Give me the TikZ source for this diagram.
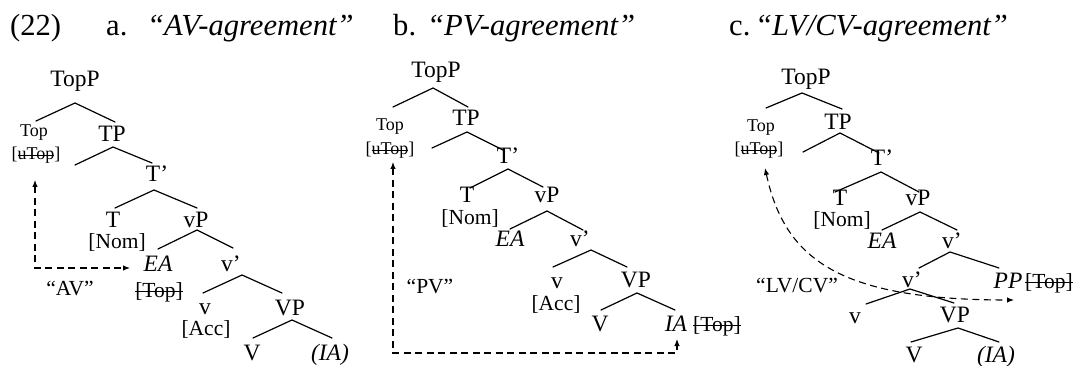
\documentclass[tikz,border=0pt]{standalone}
\usepackage{fontspec}
\setmainfont{Liberation Serif}
\usetikzlibrary{arrows.meta}
\newcommand\hdf{\fontsize{30.6}{34}\selectfont}
\newcommand\mnf{\fontsize{23.5}{27}\selectfont}
\newcommand\ftf{\fontsize{21.5}{24}\selectfont}
\newcommand\smf{\fontsize{18}{20}\selectfont}
\newcommand\stk[1]{\begingroup\setbox0=\hbox{#1}\rlap{\rule[0.25em]{\wd0}{0.9pt}}\box0\endgroup}
\tikzset{
  nd/.style={inner sep=0pt, anchor=base, font=\mnf},
  itl/.style={nd, font=\mnf\itshape},
  ftr/.style={nd, font=\ftf},
  sml/.style={nd, font=\smf},
  hdr/.style={inner sep=0pt, anchor=base west, font=\hdf},
  br/.style={line width=1.2pt, line cap=round},
  dsh/.style={line width=1.1pt, dash pattern=on 7pt off 4.5pt,
    {Latex[length=7pt,width=5.5pt]}-{Latex[length=7pt,width=5.5pt]}}
}
\begin{document}
\begin{tikzpicture}[x=1pt,y=-1pt]
\useasboundingbox (0,0) rectangle (1078,366);
% header
\node[hdr] (n22) at (10,36) {(22)};
\node[hdr] (ha) at (106,36) {a.};
\node[hdr,font=\hdf\itshape] (hat) at (147,36) {“AV-agreement”};
\node[hdr] (hb) at (393,36) {b.};
\node[hdr,font=\hdf\itshape] (hbt) at (427,36) {“PV-agreement”};
\node[hdr] (hc) at (729,36) {c.};
\node[hdr,font=\hdf\itshape] (hct) at (755,36) {“LV/CV-agreement”};

% ---------------- tree a
\node[nd] (TopPa) at (75,87) {TopP};
\node[sml] (Topa) at (34,137) {Top};
\node[sml] (uTopa) at (36,160) {[\stk{uTop}]};
\node[nd] (TPa) at (112,142) {TP};
\node[nd] (Tpa) at (157,182) {T’};
\node[nd] (Ta) at (113,227) {T};
\node[ftr] (Noma) at (117,248) {[Nom]};
\node[nd] (vPa) at (196,227) {vP};
\node[itl] (EAa) at (158,271) {EA};
\node[nd] (vpa) at (231,271) {v’};
\node[ftr] (Topfa) at (159,297) {\stk{[Top]}};
\node[ftr] (AVa) at (70,295) {“AV”};
\node[nd] (va) at (205,314) {v};
\node[ftr] (Acca) at (206,335) {[Acc]};
\node[nd] (VPa) at (290,315) {VP};
\node[nd] (Va) at (252,360) {V};
\node[itl] (IAa) at (330,360) {(IA)};
\foreach \n/\ax/\ay/\lx/\ly/\rx/\ry in {
  a1/75/103/36/121/115/122,
  a2/113/147/75/165/152/163,
  a3/154/190/115/208/197/208,
  a4/197/230/158/249/233/248,
  a5/242/275/203/293/282/293,
  a6/292/320/253/338/332/338}{
  \coordinate (\n) at (\ax,\ay);
  \coordinate (\n l) at (\lx,\ly);
  \coordinate (\n r) at (\rx,\ry);
  \draw[br] (\n l) -- (\n) -- (\n r);
}
\coordinate (atop) at (35,180);
\coordinate (acorner) at (35,268);
\coordinate (aend) at (130,268);
\draw[dsh] (atop) -- (acorner) -- (aend);

% ---------------- tree b
\node[nd] (TopPb) at (436,78) {TopP};
\node[sml] (Topb) at (390,131) {Top};
\node[sml] (uTopb) at (390,155) {[\stk{uTop}]};
\node[nd] (TPb) at (466,126) {TP};
\node[nd] (Tpb) at (508,164) {T’};
\node[nd] (Tb) at (467,203) {T};
\node[ftr] (Nomb) at (470,224) {[Nom]};
\node[nd] (vPb) at (547,203) {vP};
\node[itl] (EAb) at (510,246) {EA};
\node[nd] (vpb) at (580,246) {v’};
\node[nd] (vb) at (557,288) {v};
\node[ftr] (Accb) at (556,310) {[Acc]};
\node[nd] (VPb) at (636,287) {VP};
\node[nd] (Vb) at (600,331) {V};
\node[itl] (IAb) at (676,331) {IA};
\node[ftr,anchor=base west] (Topfb) at (693,331) {\stk{[Top]}};
\node[ftr] (PVb) at (430,293) {“PV”};
\foreach \n/\ax/\ay/\lx/\ly/\rx/\ry in {
  b1/433/88/393/107/468/107,
  b2/467/132/432/148/503/150,
  b3/508/169/470/188/543/187,
  b4/547/211/510/229/583/230,
  b5/591/250/553/267/627/267,
  b6/637/293/601/310/675/310}{
  \coordinate (\n) at (\ax,\ay);
  \coordinate (\n l) at (\lx,\ly);
  \coordinate (\n r) at (\rx,\ry);
  \draw[br] (\n l) -- (\n) -- (\n r);
}
\coordinate (btop) at (393,162);
\coordinate (bc1) at (393,353);
\coordinate (bc2) at (677,353);
\coordinate (bend) at (677,339);
\draw[dsh] (btop) -- (bc1) -- (bc2) -- (bend);

% ---------------- tree c
\node[nd] (TopPc) at (806,85) {TopP};
\node[sml] (Topc) at (761,132) {Top};
\node[sml] (uTopc) at (759,155) {[\stk{uTop}]};
\node[nd] (TPc) at (838,130) {TP};
\node[nd] (Tpc) at (882,166) {T’};
\node[nd] (Tc) at (840,205) {T};
\node[ftr] (Nomc) at (842,226) {[Nom]};
\node[nd] (vPc) at (918,205) {vP};
\node[itl] (EAc) at (882,248) {EA};
\node[nd] (vpc) at (952,248) {v’};
\node[nd] (vp2c) at (912,287) {v’};
\node[itl] (PPc) at (1008,288) {PP};
\node[ftr,anchor=base west] (Topfc) at (1025,288) {\stk{[Top]}};
\node[ftr] (LVc) at (797,292) {“LV/CV”};
\node[nd] (vc) at (855,323) {v};
\node[nd] (VPc) at (955,322) {VP};
\node[nd] (Vc) at (914,362) {V};
\node[itl] (IAc) at (996,362) {(IA)};
\foreach \n/\ax/\ay/\lx/\ly/\rx/\ry in {
  c1/802/93/766/108/842/109,
  c2/840/133/803/152/879/153,
  c3/881/172/835/192/919/192,
  c4/920/212/882/230/957/230,
  c5/950/252/919/268/999/268,
  c6/910/289/866/304/954/303,
  c7/958/328/911/342/999/342}{
  \coordinate (\n) at (\ax,\ay);
  \coordinate (\n l) at (\lx,\ly);
  \coordinate (\n r) at (\rx,\ry);
  \draw[br] (\n l) -- (\n) -- (\n r);
}
\coordinate (ctop) at (765,168);
\coordinate (cend) at (1014,300);
\draw[dsh] (ctop) .. controls (785,260) and (840,300) .. (cend);
\end{tikzpicture}
\end{document}
